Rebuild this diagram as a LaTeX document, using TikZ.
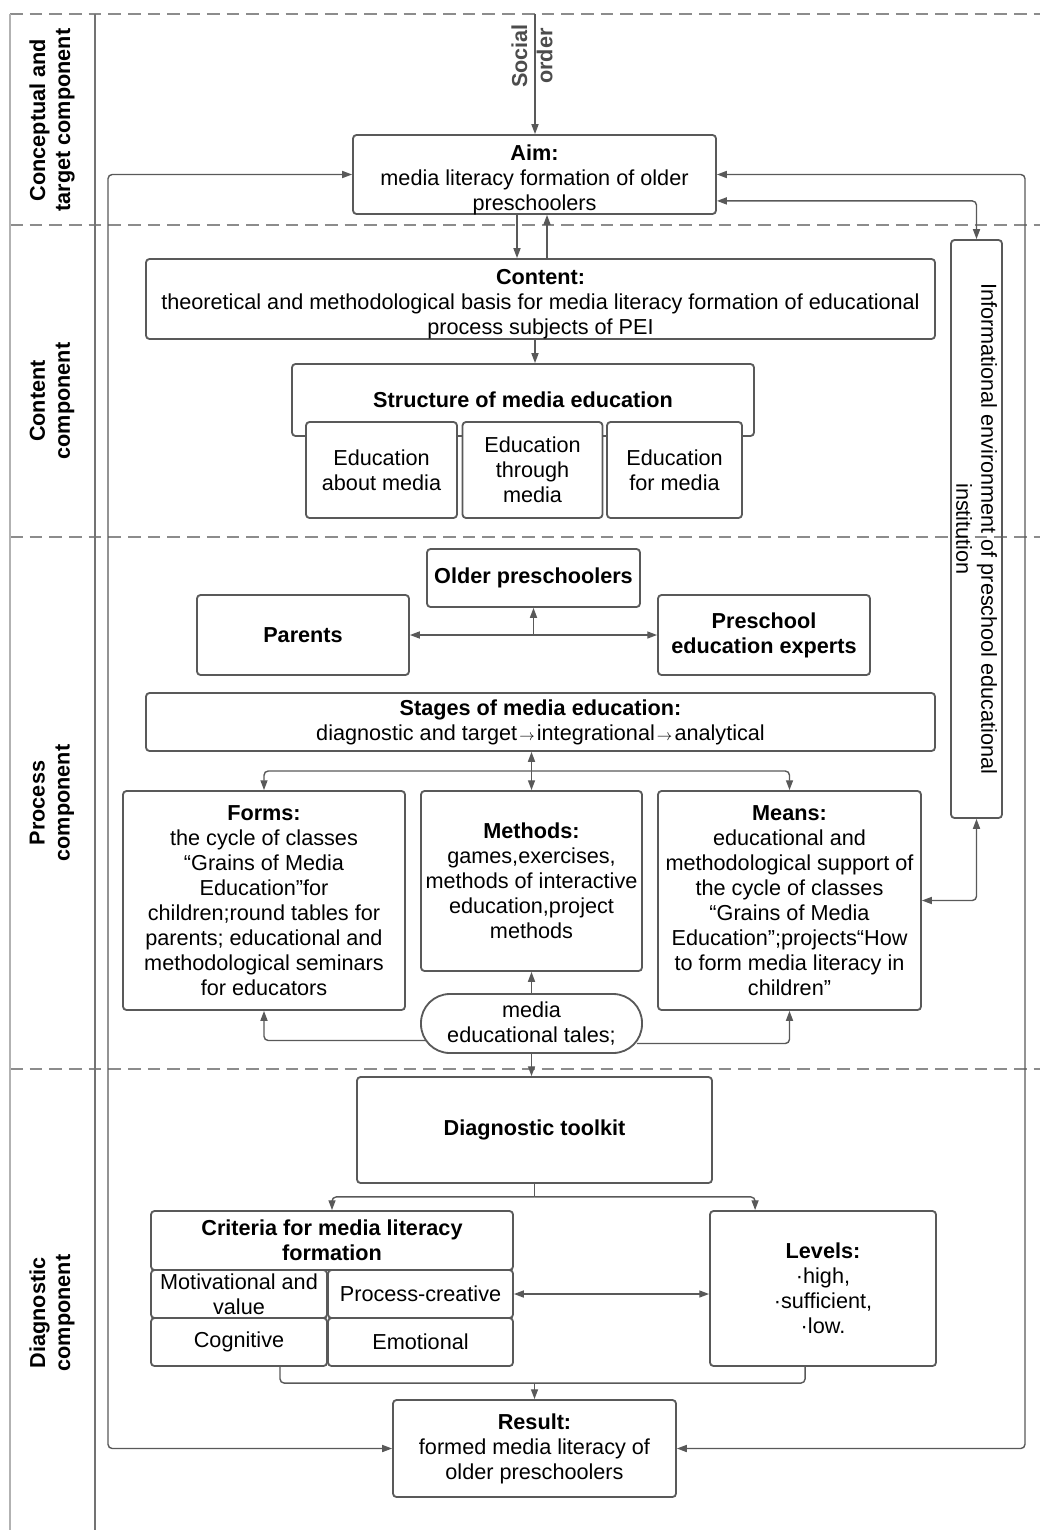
\documentclass[tikz,border=0pt]{standalone}
\usepackage{fontspec}
\setmainfont{Liberation Sans}
\usetikzlibrary{arrows.meta,calc,positioning}

\begin{document}
\begin{tikzpicture}[>={Triangle[length=7pt,width=5pt]},x=0.025cm,y=-0.025cm,
  sz/.style 2 args={minimum width=#1*0.025cm,minimum height=#2*0.025cm},
  box/.style={draw=black!65,line width=1.3pt,rounded corners=2.5pt,fill=white,
    inner sep=0pt,align=center,font=\fontsize{15.4}{17.8}\selectfont},
  title/.style={box,font=\bfseries\fontsize{15.4}{17.8}\selectfont},
  txt/.style={inner sep=0pt,align=center,font=\fontsize{15.4}{17.8}\selectfont},
  link/.style={draw=black!65,line width=1pt,rounded corners=3pt},
  zone/.style={black!45,line width=0.9pt,dash pattern=on 9pt off 5pt},
  side/.style={rotate=90,align=center,font=\bfseries\fontsize{15.4}{17.8}\selectfont}]

  \useasboundingbox (0,0) rectangle (1040,1530);

  % \draw zone lines
  \foreach \y in {14,225,537,1069} {
    \draw[zone] (10,\y) -- (1040,\y);
  }
  \draw[black!30,line width=0.8pt] (10,14) -- (10,1530);
  \draw[black!55,line width=0.8pt] (95,14) -- (95,1530);

  % \draw zone names
  \node[side] (lbconc) at (52,120) {Conceptual and\\target component};
  \node[side] (lbcont) at (52,401) {Content\\component};
  \node[side] (lbproc) at (52,803) {Process\\component};
  \node[side] (lbdiag) at (52,1313) {Diagnostic\\component};

  % \draw aim and content
  \node[side,text=black!70] (social) at (532,56) {Social\\order};
  \node[box,sz={363}{79}] (aim) at (534.5,174.5) {};
  \node[txt] (aimtext) at (534.5,180)
    {{\bfseries Aim:}\\media literacy formation of older\\preschoolers};
  \node[box,sz={789}{80}] (content) at (540.5,299) {};
  \node[txt] (contenttext) at (540.5,304)
    {{\bfseries Content:}\\theoretical and methodological basis for media literacy formation of educational\\process subjects of PEI};
  \node[title,sz={462}{72}] (struct) at (523,400) {Structure of media education};
  \node[box,sz={151}{96}] (about) at (381.5,470) {Education\\about media};
  \node[box,sz={140}{96}] (through) at (532.5,470) {Education\\through\\media};
  \node[box,sz={135}{96}] (formedia) at (674.5,470) {Education\\for media};
  \node[box,fill=none,rotate=-90,sz={578}{51}] (info) at (976.5,529)
    {Informational environment of preschool educational\\institution};

  % \draw process
  \node[title,sz={213}{58}] (older) at (533.5,578) {Older preschoolers};
  \node[title,sz={212}{80}] (parents) at (303,635) {Parents};
  \node[title,sz={212}{80}] (experts) at (764,635) {Preschool\\education experts};
  \node[box,sz={789}{58}] (stages) at (540.5,722)
    {{\bfseries Stages of media education:}\\diagnostic and target\kern1.5pt$\scriptstyle\rightarrow$\kern1.5pt integrational\kern1.5pt$\scriptstyle\rightarrow$\kern1.5pt analytical};
  \node[box,sz={282}{219}] (forms) at (264,900.5)
    {{\bfseries Forms:}\\the cycle of classes\\“Grains of Media\\Education”for\\children;round tables for\\parents; educational and\\methodological seminars\\for educators};
  \node[box,sz={221}{180}] (methods) at (531.5,881)
    {{\bfseries Methods:}\\games,exercises,\\methods of interactive\\education,project\\methods};
  \node[box,sz={263}{219}] (means) at (789.5,900.5)
    {{\bfseries Means:}\\educational and\\methodological support of\\the cycle of classes\\“Grains of Media\\Education”;projects“How\\to form media literacy in\\children”};
  \node[box,rounded corners=20.5pt,sz={221}{59}] (tales) at (531.5,1023.5)
    {media\\educational tales;};

  % \draw diagnostics
  \node[title,sz={355}{106}] (toolkit) at (534.5,1130) {Diagnostic toolkit};
  \node[title,sz={362}{59}] (criteria) at (332,1240.5)
    {Criteria for media literacy\\formation};
  \node[box,sz={176}{48}] (motiv) at (239,1294) {Motivational and\\value};
  \node[box,sz={185}{48}] (proc) at (420.5,1294) {Process-creative};
  \node[box,sz={176}{48}] (cogn) at (239,1342) {Cognitive};
  \node[box,sz={185}{48}] (emot) at (420.5,1342) {Emotional};
  \node[box,sz={226}{155}] (levels) at (823,1288.5)
    {{\bfseries Levels:}\\·high,\\·sufficient,\\·low.};
  \node[box,sz={283}{97}] (result) at (534.5,1448.5)
    {{\bfseries Result:}\\formed media literacy of\\older preschoolers};

  % \draw arrows
  \coordinate (order) at (535,14);
  \coordinate (lrail) at (108,0);
  \coordinate (rrail) at (1025,0);
  \coordinate (dnx) at (517,0);
  \coordinate (upx) at (547,0);
  \coordinate (midx) at (535,0);
  \draw[link,->] (order) -- (order |- aim.north);
  \draw[link,<->] (aim.west) -| (lrail |- result.west) -- (result.west);
  \draw[link,<->] (aim.east) -| (rrail |- result.east) -- (result.east);
  \draw[link,<->] ($(aim.south east)+(0,-14)$) -| (info.west);
  \draw[link,<->] (info.east) |- (means.east);
  \draw[link,->] (aim.south -| dnx) -- (content.north -| dnx);
  \draw[link,->] (content.north -| upx) -- (aim.south -| upx);
  \draw[link,->] (content.south -| midx) -- (struct.north -| midx);

  \draw[link,<->] (parents) -- (experts);
  \draw[link,->] (older.south |- parents.east) -- (older.south);
  \draw[link,<->] (methods.north |- stages.south) -- (methods.north);
  \coordinate (fork) at ($(methods.north)!0.5!(methods.north |- stages.south)$);
  \draw[link,->] (fork) -| (forms.north);
  \draw[link,->] (fork) -| (means.north);
  \draw[link,->] (tales) -- (methods);
  \draw[link,->] ($(tales.west)+(7,17)$) -| (forms.south);
  \draw[link,->] ($(tales.east)+(-6,20)$) -| (means.south);
  \draw[link,->] (tales.south) -- (tales.south |- toolkit.north);

  \coordinate (split) at ($(toolkit.south)+(0,13)$);
  \draw[link] (toolkit.south) -- (split);
  \draw[link,->] (split) -| (criteria.north);
  \draw[link,->] (split) -| ($(levels.north west)+(46,0)$);
  \draw[link,<->] (proc.east) -- (proc.east -| levels.west);
  \coordinate (join) at ($(result.north)+(0,-16)$);
  \draw[link] ($(cogn.south)+(41,0)$) |- (join) -| ($(levels.south west)+(96,0)$);
  \draw[link,->] (join) -- (result.north);

\end{tikzpicture}
\end{document}
